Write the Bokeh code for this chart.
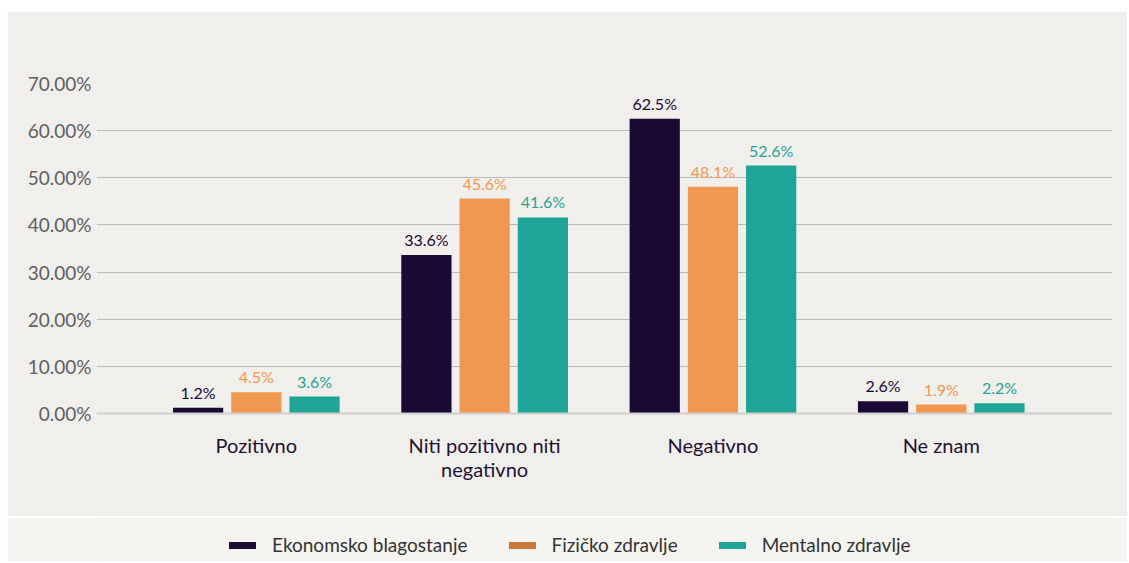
from bokeh.plotting import figure
from bokeh.models import ColumnDataSource, FixedTicker, Range1d, Legend, LegendItem, Spacer
from bokeh.layouts import column, row
from bokeh.embed import file_html
from bokeh.resources import INLINE
from bokeh.core.properties import value

categories = ["Pozitivno", "Niti pozitivno niti\nnegativno", "Negativno", "Ne znam"]
series_names = ["Ekonomsko blagostanje", "Fizičko zdravlje", "Mentalno zdravlje"]
ekonomsko = [1.2, 33.6, 62.5, 2.6]
fizicko = [4.5, 45.6, 48.1, 1.9]
mentalno = [3.6, 41.6, 52.6, 2.2]
y_ticks = [0, 10, 20, 30, 40, 50, 60, 70]

bar_colors = ["#1a0935", "#f0984f", "#1fa597"]
legend_colors = ["#1a0935", "#c9793a", "#1fa597"]
FONT = "Lato"
BG = "#f1efeb"

W = 1120
H_MAIN = 505
H_LEG = 44

p = figure(width=W, height=H_MAIN, output_backend="svg", toolbar_location=None,
           x_range=Range1d(-0.70, 3.75), y_range=Range1d(0, 70))
p.background_fill_color = BG
p.border_fill_color = BG
p.outline_line_color = None
p.min_border_left = 89
p.min_border_right = W - 89 - 1016
p.min_border_top = 72
p.min_border_bottom = 103

offsets = [-0.255, 0.0, 0.255]
width = 0.22
all_series = [ekonomsko, fizicko, mentalno]
for vals, off, col in zip(all_series, offsets, bar_colors):
    xs = [i + off for i in range(len(categories))]
    src = ColumnDataSource(dict(x=xs, top=vals, lab=[f"{v:.1f}%" for v in vals]))
    p.vbar(x="x", top="top", width=width, bottom=0, source=src, fill_color=col, line_color=None)
    p.text(x="x", y="top", text="lab", source=src, text_align="center", text_baseline="bottom",
           y_offset=-6, text_color=col, text_font=value(FONT), text_font_size="16px")

p.yaxis.ticker = FixedTicker(ticks=y_ticks)
p.yaxis.major_label_overrides = {t: f"{t:.2f}%" for t in y_ticks}
p.yaxis.axis_line_color = None
p.yaxis.major_tick_line_color = None
p.yaxis.minor_tick_line_color = None
p.yaxis.major_tick_in = 0
p.yaxis.major_tick_out = 0
p.yaxis.major_label_text_font = FONT
p.yaxis.major_label_text_font_size = "19px"
p.yaxis.major_label_text_color = "#606060"
p.yaxis.major_label_standoff = 5

p.xaxis.ticker = FixedTicker(ticks=list(range(len(categories))))
p.xaxis.major_label_overrides = {i: c for i, c in enumerate(categories)}
p.xaxis.axis_line_color = "#cfcfcf"
p.xaxis.axis_line_width = 2
p.xaxis.major_tick_line_color = None
p.xaxis.minor_tick_line_color = None
p.xaxis.major_label_text_font = FONT
p.xaxis.major_label_text_font_size = "20px"
p.xaxis.major_label_text_color = "#1e1233"
p.xaxis.major_label_text_line_height = 1.0
p.xaxis.major_label_standoff = 13

p.xgrid.grid_line_color = None
p.ygrid.grid_line_color = "#b9babd"
p.ygrid.ticker = FixedTicker(ticks=y_ticks)

# legend band
LEG_BG = "#f5f4f0"
q = figure(width=W, height=H_LEG, output_backend="svg", toolbar_location=None,
           x_range=Range1d(0, 1), y_range=Range1d(0, 1))
q.background_fill_color = LEG_BG
q.border_fill_color = LEG_BG
q.outline_line_color = None
q.axis.visible = False
q.grid.visible = False
q.min_border = 0
items = []
for name, col in zip(series_names, legend_colors):
    r = q.line(x=[-10, -9], y=[-10, -9], line_color=col, line_width=7, line_cap="round")
    items.append(LegendItem(label=name, renderers=[r]))
leg = Legend(items=items, orientation="horizontal", location=(133, 5),
             background_fill_alpha=0, border_line_color=None, padding=0, margin=0,
             label_text_font=FONT, label_text_font_size="19px", label_text_color="#333333",
             glyph_width=27, label_standoff=16, spacing=41)
q.add_layout(leg, "center")

layout = row(Spacer(width=7), column(Spacer(height=11), p, Spacer(height=1), q, spacing=0))
open("out.html", "w").write(file_html(layout, INLINE))
